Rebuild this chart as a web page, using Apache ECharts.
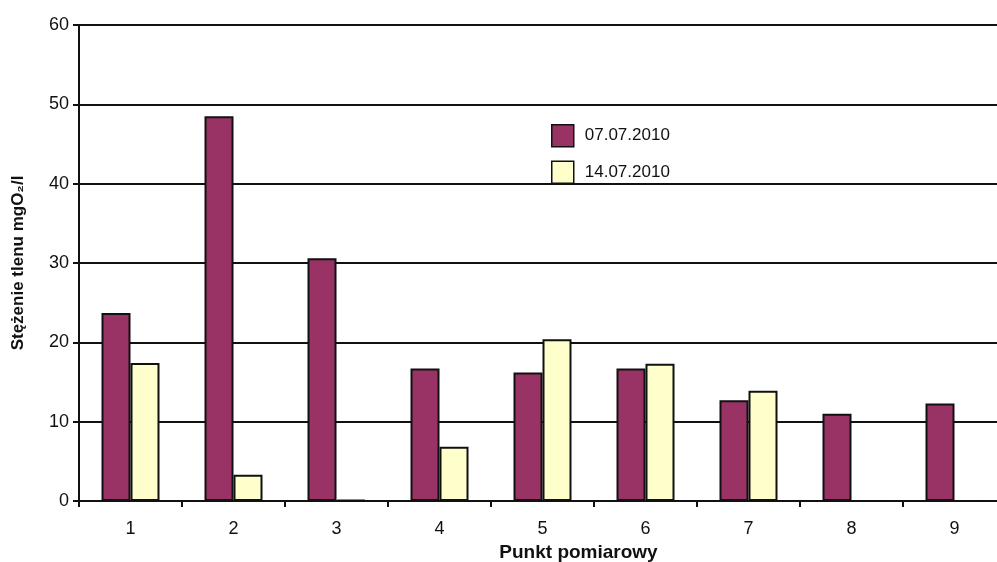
<!DOCTYPE html>
<html><head><meta charset="utf-8">
<script src="https://cdn.jsdelivr.net/npm/echarts@6/dist/echarts.min.js"></script>
<style>html,body{margin:0;padding:0;background:#fff}#c{width:997px;height:562px}</style>
</head><body><div id="c"></div>
<script>
const categories = ['1','2','3','4','5','6','7','8','9'];
const series1Name = '07.07.2010';
const series2Name = '14.07.2010';
const series1 = [23.7, 48.5, 30.6, 16.7, 16.2, 16.7, 12.7, 11.0, 12.3];
const series2 = [17.4, 3.3, 0.15, 6.85, 20.4, 17.3, 13.9, 0, 0];
const yTicks = [0, 10, 20, 30, 40, 50, 60];

const chart = echarts.init(document.getElementById('c'), null, {renderer: 'canvas'});
const font = 'Liberation Sans, Arial, sans-serif';
chart.setOption({
  animation: false,
  backgroundColor: '#fff',
  grid: {left: 79, width: 927, top: 25, bottom: 61, containLabel: false, outerBoundsMode: 'none'},
  legend: {
    orient: 'vertical', left: 546, top: 119, itemWidth: 22, itemHeight: 22, itemGap: 13,
    icon: 'rect',
    data: [series1Name, series2Name],
    textStyle: {fontFamily: font, fontSize: 17, color: '#111', padding: [0,0,0,6]},
    itemStyle: {borderColor: '#111', borderWidth: 1.5}
  },
  xAxis: {
    type: 'category', data: categories,
    name: 'Punkt pomiarowy', nameLocation: 'middle', nameGap: 42,
    nameTextStyle: {fontFamily: font, fontSize: 19, fontWeight: 'bold', color: '#111', padding: [0, 0, 0, 72]},
    axisLine: {lineStyle: {color: '#111', width: 2}},
    axisTick: {show: true, alignWithLabel: false, length: 6, lineStyle: {color: '#111', width: 2}},
    axisLabel: {fontFamily: font, fontSize: 18, color: '#111', margin: 19}
  },
  yAxis: {
    type: 'value', min: yTicks[0], max: yTicks[yTicks.length-1], interval: 10,
    name: 'Stężenie tlenu mgO₂/l', nameLocation: 'middle', nameGap: 52,
    nameTextStyle: {fontFamily: font, fontSize: 17, fontWeight: 'bold', color: '#111'},
    axisLine: {show: true, lineStyle: {color: '#111', width: 2}},
    axisTick: {show: true, length: 6, lineStyle: {color: '#111', width: 2}},
    axisLabel: {fontFamily: font, fontSize: 18, color: '#111', margin: 10},
    splitLine: {show: true, lineStyle: {color: '#111', width: 2}}
  },
  series: [
    {name: series1Name, type: 'bar', data: series1, barWidth: 29, barGap: '0%',
     itemStyle: {color: '#993366', borderColor: '#111', borderWidth: 2}},
    {name: series2Name, type: 'bar', data: series2, barWidth: 29,
     itemStyle: {color: '#FFFFCC', borderColor: '#111', borderWidth: 2}}
  ]
});
</script></body></html>
